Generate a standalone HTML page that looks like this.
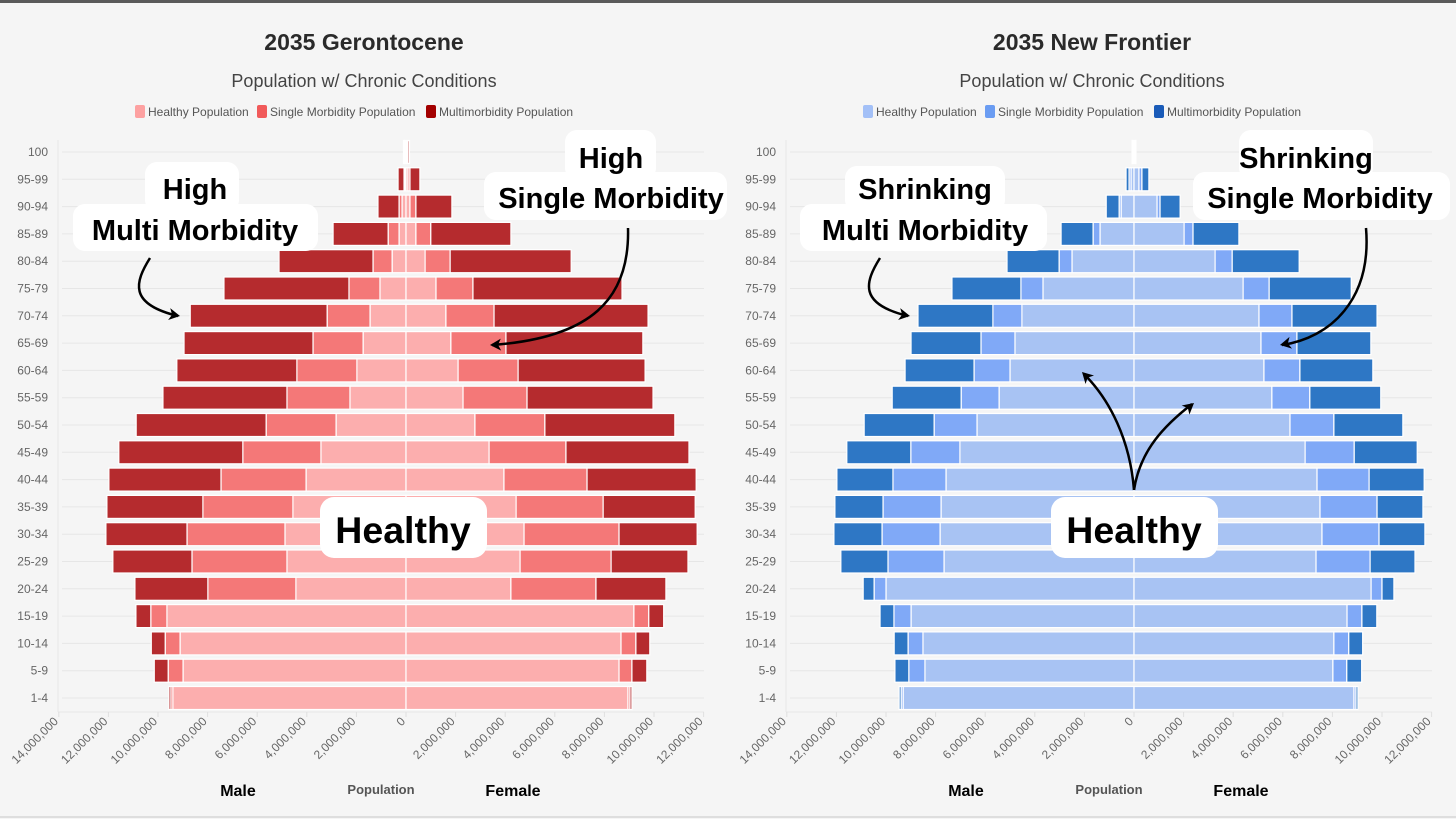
<!DOCTYPE html>
<html><head><meta charset="utf-8">
<style>
html,body{margin:0;padding:0;background:#f5f5f5;}
svg{display:block;}
.t{font-family:"Liberation Sans Narrow","Liberation Sans",sans-serif;}
.a{font-family:"Liberation Sans",sans-serif;font-weight:bold;fill:#000;}
</style></head>
<body>
<svg id="s" width="1456" height="819" xmlns="http://www.w3.org/2000/svg">
<rect x="0" y="0" width="1456" height="819" fill="#f5f5f5"/>
<rect x="0" y="0" width="1456" height="3" fill="#5a5a5a"/>
<rect x="0" y="816" width="1456" height="2" fill="#dedede"/>
</svg>
<script>
const ageGroups = ["100","95-99","90-94","85-89","80-84","75-79","70-74","65-69","60-64","55-59","50-54","45-49","40-44","35-39","30-34","25-29","20-24","15-19","10-14","5-9","1-4"];
const tickValues = [-14,-12,-10,-8,-6,-4,-2,0,2,4,6,8,10,12];
const tickLabels = ["14,000,000","12,000,000","10,000,000","8,000,000","6,000,000","4,000,000","2,000,000","0","2,000,000","4,000,000","6,000,000","8,000,000","10,000,000","12,000,000"];
// Gerontocene (millions)
const gMaleHealthy = [0.04,0.04,0.16,0.28,0.56,1.05,1.45,1.73,1.98,2.26,2.82,3.43,4.03,4.56,4.88,4.80,4.44,9.64,9.11,8.99,9.40];
const gMaleSingle  = [0.02,0.04,0.12,0.44,0.77,1.25,1.73,2.02,2.42,2.54,2.82,3.15,3.43,3.63,3.95,3.83,3.55,0.65,0.60,0.60,0.08];
const gMaleMulti   = [0.04,0.24,0.85,2.22,3.79,5.04,5.52,5.20,4.84,5.00,5.24,5.00,4.52,3.87,3.27,3.19,2.94,0.60,0.56,0.56,0.08];
const gFemHealthy  = [0.04,0.08,0.16,0.40,0.77,1.21,1.61,1.81,2.10,2.30,2.78,3.35,3.95,4.44,4.76,4.60,4.23,9.19,8.67,8.59,8.95];
const gFemSingle   = [0.04,0.08,0.24,0.60,1.01,1.49,1.94,2.22,2.42,2.58,2.82,3.10,3.35,3.51,3.83,3.67,3.43,0.60,0.60,0.52,0.08];
const gFemMulti    = [0.06,0.40,1.45,3.23,4.88,6.01,6.21,5.52,5.12,5.08,5.24,4.96,4.40,3.71,3.15,3.10,2.82,0.60,0.56,0.60,0.08];
// New Frontier (millions)
const nMaleHealthy = [0.04,0.12,0.52,1.37,2.50,3.67,4.52,4.80,5.00,5.44,6.33,7.02,7.58,7.78,7.82,7.66,10.0,8.99,8.51,8.43,9.31];
const nMaleSingle  = [0.02,0.08,0.08,0.28,0.52,0.89,1.17,1.37,1.45,1.53,1.73,1.98,2.14,2.34,2.34,2.26,0.48,0.69,0.60,0.65,0.08];
const nMaleMulti   = [0.02,0.12,0.52,1.29,2.10,2.78,3.02,2.82,2.78,2.78,2.82,2.58,2.26,1.94,1.94,1.90,0.44,0.56,0.56,0.56,0.08];
const nFemHealthy  = [0.04,0.20,0.93,2.02,3.27,4.40,5.04,5.12,5.24,5.56,6.29,6.90,7.38,7.50,7.58,7.34,9.56,8.59,8.06,8.02,8.87];
const nFemSingle   = [0.02,0.12,0.12,0.36,0.69,1.05,1.33,1.45,1.45,1.53,1.77,1.98,2.10,2.30,2.30,2.18,0.44,0.60,0.60,0.56,0.08];
const nFemMulti    = [0.02,0.28,0.81,1.85,2.70,3.31,3.43,2.98,2.94,2.86,2.78,2.54,2.22,1.85,1.85,1.81,0.48,0.60,0.56,0.60,0.08];

const NS="http://www.w3.org/2000/svg";
const svg=document.getElementById('s');
function mk(tag,attrs,parent,text){const e=document.createElementNS(NS,tag);for(const k in attrs)e.setAttribute(k,attrs[k]);if(text!==undefined)e.textContent=text;(parent||svg).appendChild(e);return e;}

function drawChart(ox, title, cols, legCols, data, prefix){
  const g=mk('g',{});
  
  
  const xScale=v=>ox+406+v*24.8;
  const yScale=i=>152+i*27.3;
  const t=mk('text',{x:ox+364,y:50,'text-anchor':'middle','font-size':23,'font-weight':'bold',fill:'#2a2a2a',class:'t'},g,title);
   
  const st=mk('text',{x:ox+364,y:87,'text-anchor':'middle','font-size':18,fill:'#444',class:'t'},g,'Population w/ Chronic Conditions');
   
  const legNames=['Healthy Population','Single Morbidity Population','Multimorbidity Population'];
  const legX=[135,257,426];
  for(let k=0;k<3;k++){
    const lg=mk('g',{},g);
    
    
    mk('rect',{x:ox+legX[k],y:105,width:10,height:13,rx:2,fill:legCols[k]},lg);
    mk('text',{x:ox+legX[k]+13,y:116,'font-size':12,fill:'#555',class:'t'},lg,legNames[k]);
  }
  for(let i=0;i<ageGroups.length;i++){
    const gl=mk('line',{x1:ox+62,x2:ox+704,y1:yScale(i),y2:yScale(i),stroke:'#e6e6e6','stroke-width':1},g);
     
    const yl=mk('text',{x:ox+48,y:yScale(i)+4,'text-anchor':'end','font-size':12,fill:'#666',class:'t'},g,ageGroups[i]);
     
  }
  const ax=mk('line',{x1:ox+58,x2:ox+58,y1:140,y2:712,stroke:'#e6e6e6'},g);
   
  const bx=mk('line',{x1:ox+58,x2:ox+704,y1:712,y2:712,stroke:'#e6e6e6'},g);
   
  for(let k=0;k<tickValues.length;k++){
    const x=xScale(tickValues[k]);
    mk('line',{x1:x,x2:x,y1:712,y2:717,stroke:'#e0e0e0'},g);
    const tl=mk('text',{x:x,y:722,'text-anchor':'end','font-size':12,fill:'#666',class:'t',transform:`rotate(-45 ${x} 722)`},g,tickLabels[k]);
     
  }
  const segNames=['healthy','single','multi'];
  for(let i=0;i<ageGroups.length;i++){
    const y=yScale(i)-11.5;
    let cum=0;
    for(let k=0;k<3;k++){
      const v=data.male[k][i];
      const x1=xScale(-(cum+v)), x2=xScale(-cum);
      const r=mk('rect',{x:x1,y:y,width:Math.max(x2-x1,0.5),height:23,fill:cols[k],stroke:'#fff','stroke-width':1.2},g);
      
      
      cum+=v;
    }
    cum=0;
    for(let k=0;k<3;k++){
      const v=data.fem[k][i];
      const x1=xScale(cum), x2=xScale(cum+v);
      const r=mk('rect',{x:x1,y:y,width:Math.max(x2-x1,0.5),height:23,fill:cols[k],stroke:'#fff','stroke-width':1.2},g);
      
      
      cum+=v;
    }
  }
  const m=mk('text',{x:ox+238,y:796,'text-anchor':'middle','font-size':16,'font-weight':'bold',fill:'#000',class:'a'},g,'Male');
   
  const p=mk('text',{x:ox+381,y:794,'text-anchor':'middle','font-size':13,'font-weight':'bold',fill:'#555',class:'t'},g,'Population');
   
  const f=mk('text',{x:ox+513,y:796,'text-anchor':'middle','font-size':16,'font-weight':'bold',fill:'#000',class:'a'},g,'Female');
   
}
drawChart(0,'2035 Gerontocene',['#fcaeae','#f47878','#b52b2e'],['#fda1a1','#f15a5a','#a30000'],
  {male:[gMaleHealthy,gMaleSingle,gMaleMulti],fem:[gFemHealthy,gFemSingle,gFemMulti]},'gerontocene');
drawChart(728,'2035 New Frontier',['#a8c3f3','#80a9f7','#2e77c5'],['#a3c0f7','#6a9cf2','#1a5bb8'],
  {male:[nMaleHealthy,nMaleSingle,nMaleMulti],fem:[nFemHealthy,nFemSingle,nFemMulti]},'new-frontier');

function box(x,y,w,h,r,name){const b=mk('rect',{x:x,y:y,width:w,height:h,rx:r,fill:'#fff'});}
function txt(x,y,s,size,name){const t=mk('text',{x:x,y:y,'text-anchor':'middle','font-size':size,class:'a'},svg,s);}
function arrow(d,hx,hy,ang,name){
  const p=mk('path',{d:d,fill:'none',stroke:'#000','stroke-width':2.5});
  const h=mk('path',{d:'M0,0 L-11,-6 L-8,0 L-11,6 Z',fill:'#000',transform:`translate(${hx} ${hy}) rotate(${ang})`});
}
box(145,162,94,50,12,'annotation-box');box(73,204,245,47,12,'annotation-box');
txt(195,199,'High',29,'annotation-high-multi');txt(195,240,'Multi Morbidity',29,'annotation-high-multi');
box(565,130,91,50,12,'annotation-box');box(484,172,243,48,12,'annotation-box');
txt(611,168,'High',29,'annotation-high-single');txt(611,208,'Single Morbidity',29,'annotation-high-single');
box(320,497,167,61,14,'annotation-box');txt(403,543,'Healthy',37.5,'annotation-healthy');
arrow('M150,258 C135,282 128,304 178,316',180,316,10,'arrow-multi');
arrow('M628,228 C630,300 590,338 492,345',490,345,178,'arrow-single');
box(845,166,160,46,12,'annotation-box');box(800,204,247,47,12,'annotation-box');
txt(925,199,'Shrinking',29,'annotation-shrinking-multi');txt(925,240,'Multi Morbidity',29,'annotation-shrinking-multi');
box(1239,130,134,50,12,'annotation-box');box(1193,172,257,48,12,'annotation-box');
txt(1306,168,'Shrinking',29,'annotation-shrinking-single');txt(1320,208,'Single Morbidity',29,'annotation-shrinking-single');
box(1051,497,167,61,14,'annotation-box');txt(1134,543,'Healthy',37.5,'annotation-healthy-right');
arrow('M880,258 C865,282 858,304 908,316',910,316,10,'arrow-multi-right');
arrow('M1366,228 C1372,300 1330,338 1282,345',1280,345,168,'arrow-single-right');
arrow('M1134,490 C1130,440 1110,400 1084,374',1082,372,-135,'arrow-healthy-male');
arrow('M1134,490 C1140,450 1165,425 1192,404',1194,403,-40,'arrow-healthy-female');
</script>
</body></html>
